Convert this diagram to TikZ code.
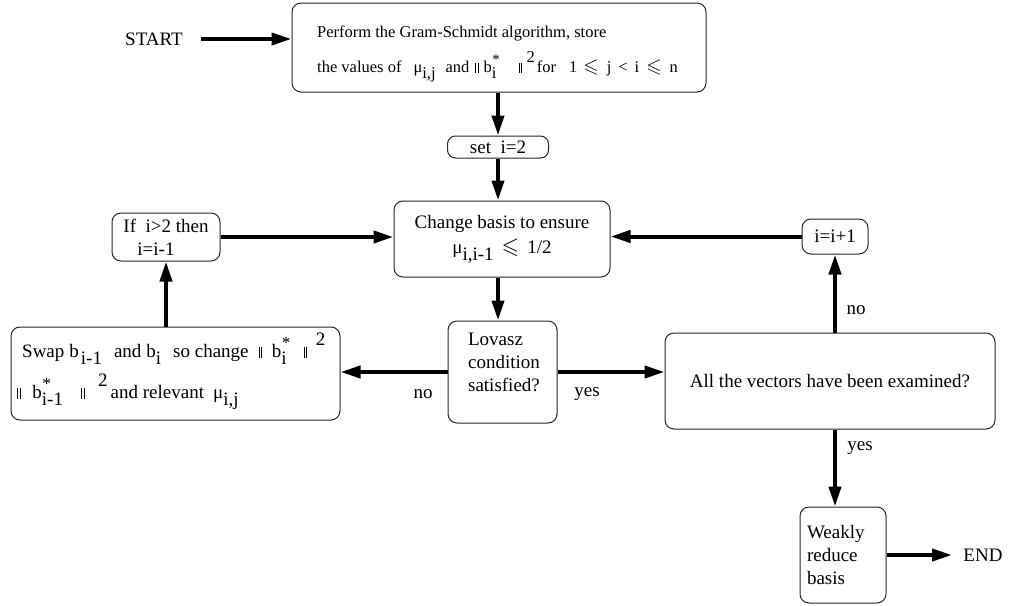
\documentclass[tikz,border=0pt]{standalone}
\usepackage{fontspec}
\setmainfont{Liberation Serif}
\usepackage{amssymb}
\usepackage{graphicx}
\usetikzlibrary{arrows.meta}
\newcommand\lo[1]{\raisebox{-0.38em}{#1}}
\newcommand\hi[1]{\raisebox{0.45em}{\scalebox{0.9}{#1}}}
\newcommand\bst[1]{\rlap{\hspace{0.5pt}\hi{*}}\lo{#1}}
\newcommand\nrm{\rule[-0.05em]{0.5pt}{0.6em}\hspace{2.2pt}\rule[-0.05em]{0.5pt}{0.6em}}
\newcommand\sq{\raisebox{0.6em}{2}}
\newcommand\lsq{\scalebox{1.2}{$\leqslant$}}
\begin{document}
\begin{tikzpicture}[x=1pt,y=-1pt,
  box/.style={draw=black!85, line width=1pt, rounded corners=9pt, inner sep=0pt, font=\fontsize{19}{23}\selectfont},
  arr/.style={line width=4pt, -{Triangle[length=20pt,width=12pt]}},
  lbl/.style={inner sep=0pt, font=\fontsize{19}{23}\selectfont},
  gsfont/.style={inner sep=0pt, font=\fontsize{16.5}{20}\selectfont},
  swfont/.style={inner sep=0pt, font=\fontsize{19}{23}\selectfont}]
\useasboundingbox (0,0) rectangle (1009,605);

\node[lbl] (start) at (154,39) {START};
\node[box, minimum width=414pt, minimum height=89pt] (gs) at (499,47.5) {};
\node[gsfont, anchor=base west] (gs1) at (317,37) {Perform the Gram-Schmidt algorithm, store};
\node[gsfont, anchor=base west] (gs2) at (317,72)
  {the values of\hspace{12pt}μ\lo{i,j}\hspace{10pt}and\hspace{6pt}\nrm\hspace{5pt}b\bst{i}\hspace{22pt}\nrm\hspace{5pt}\sq\hspace{2pt}for\hspace{13pt}1\hspace{6pt}\lsq\hspace{8pt}j\hspace{7pt}<\hspace{7pt}i\hspace{7pt}\lsq\hspace{8pt}n};
\node[box, minimum width=101pt, minimum height=22pt, rounded corners=8pt] (set) at (498,147) {set \ i=2};
\node[box, align=center, minimum width=216pt, minimum height=76pt] (cb) at (502,239)
  {Change basis to ensure\\[2pt] μ\lo{i,i-1}\hspace{8pt}\lsq\hspace{8pt}1/2};
\node[box, minimum width=109pt, minimum height=102pt] (lov) at (502.5,372) {};
\node[lbl, align=left] (lovt) at (504,362) {Lovasz\\condition\\satisfied?};
\node[box, minimum width=329pt, minimum height=93pt] (swap) at (175.5,373.5) {};
\node[swfont, anchor=base west] (sw1) at (22,357)
  {Swap\hspace{5pt}b\hspace{2pt}\lo{i-1}\hspace{12pt}and\hspace{5pt}b\lo{i}\hspace{12pt}so change\hspace{10pt}\nrm\hspace{10pt}b\bst{i}\hspace{17pt}\nrm\hspace{9pt}\sq};
\node[swfont, anchor=base west] (sw2) at (17,398)
  {\nrm\hspace{12pt}b\bst{i-1}\hspace{18pt}\nrm\hspace{14pt}\sq\hspace{3pt}and relevant\hspace{9pt}μ\lo{i,j}};
\node[box, minimum width=330pt, minimum height=96pt] (all) at (830,381) {All the vectors have been examined?};
\node[box, minimum width=66pt, minimum height=35pt] (inc) at (835,236.5) {i=i+1};
\node[box, align=left, minimum width=108pt, minimum height=48pt] (ifb) at (166,237)
  {If \ i>2 then\\\hspace{14pt}i=i-1};
\node[box, align=left, text width=72pt, inner xsep=7pt, minimum height=96pt] (weak) at (843,555)
  {Weakly\\reduce\\basis};
\node[lbl] (end) at (983,555) {END};
\coordinate (endtip) at (952,555);

\draw[arr] ([xshift=18pt]start.east) -- (start.east -| gs.west);
\draw[arr] (gs.south -| set.north) -- (set.north);
\draw[arr] (set.south) -- (set.south |- cb.north);
\draw[arr] (set.south |- cb.south) -- (set.south |- lov.north);
\draw[arr] (lov.west) -- (lov.west -| swap.east);
\draw[arr] (lov.east) -- (lov.east -| all.west);
\draw[arr] (inc.south |- all.north) -- (inc.south);
\draw[arr] (inc.west) -- (inc.west -| cb.east);
\draw[arr] (ifb.south |- swap.north) -- (ifb.south);
\draw[arr] (ifb.east) -- (ifb.east -| cb.west);
\draw[arr] (inc.south |- all.south) -- (inc.south |- weak.north);
\draw[arr] (weak.east) -- (endtip);

\node[lbl] (no1) at (423,394) {no};
\node[lbl] (yes1) at (587,394) {yes};
\node[lbl] (no2) at (856,310) {no};
\node[lbl] (yes2) at (860,448) {yes};
\end{tikzpicture}
\end{document}
